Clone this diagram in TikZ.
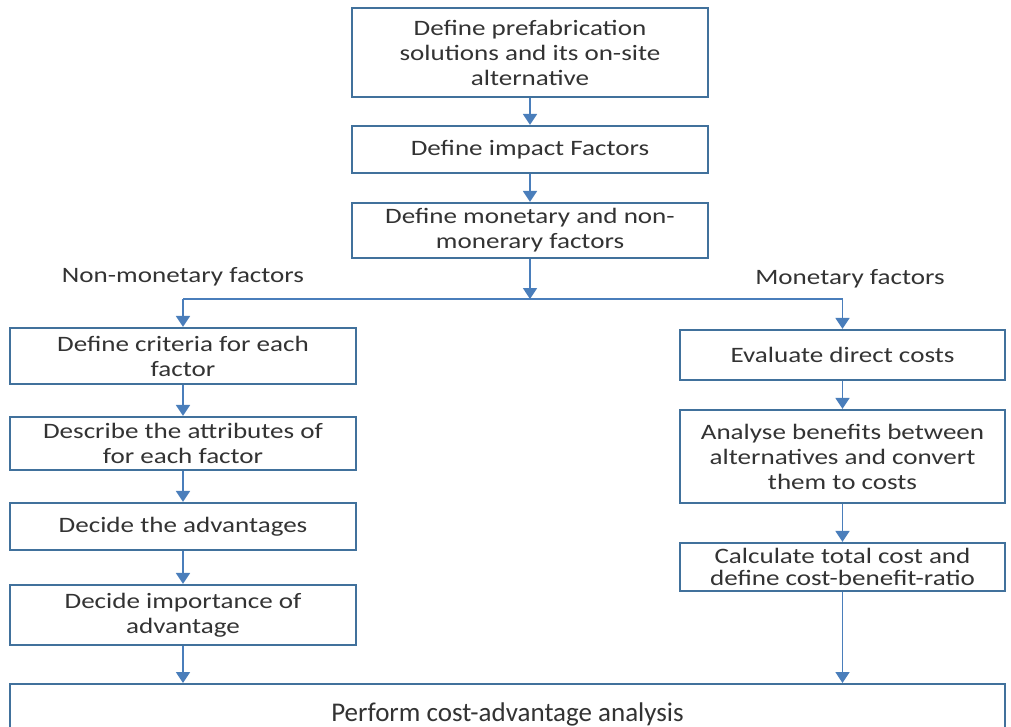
\documentclass[tikz,border=0pt]{standalone}
\usepackage{fontspec}
\setmainfont{Carlito}[FakeStretch=1.23]
\newfontfamily\plainfont{Carlito}
\usetikzlibrary{arrows.meta}
\definecolor{boxblue}{RGB}{65,113,156}
\definecolor{lineblue}{RGB}{74,126,187}

\begin{document}
\begin{tikzpicture}[x=0.5pt, y=-0.5pt,
        main/.style = {draw=boxblue, line width=1.1pt, fill=white, align=center, inner sep=2pt,
                       font=\fontsize{11}{12.5}\selectfont, text=black!80},
        lbl/.style = {font=\fontsize{11}{12.5}\selectfont, text=black!80},
        arr/.style = {draw=lineblue, line width=0.9pt, -{Triangle[width=7pt,length=5.5pt]}},
        ln/.style = {draw=lineblue, line width=0.9pt}]

            \useasboundingbox (0,0) rectangle (1011,727);
            \clip (0,0) rectangle (1011,727);

            % middle column
            \node[main, minimum width=178pt, minimum height=44.5pt] (1) at (530,52.5)
                {Define prefabrication\\ solutions and its on-site\\ alternative};
            \node[main, minimum width=178pt, minimum height=23.5pt] (2) at (530,149.5)
                {Define impact Factors};
            \node[main, minimum width=178pt, minimum height=27.5pt] (3) at (530,230.5)
                {Define monetary and non-\\ monerary factors};

            % left column
            \node[main, minimum width=173pt, minimum height=28pt] (l1) at (183,356)
                {Define criteria for each\\ factor};
            \node[main, minimum width=173pt, minimum height=26.5pt] (l2) at (183,443.5)
                {Describe the attributes of\\ for each factor};
            \node[main, minimum width=173pt, minimum height=23.5pt] (l3) at (183,526.5)
                {Decide the advantages};
            \node[main, minimum width=173pt, minimum height=30pt] (l4) at (183,615)
                {Decide importance of\\ advantage};

            % right column
            \node[main, minimum width=162.5pt, minimum height=25pt] (r1) at (842.5,355)
                {Evaluate direct costs};
            \node[main, minimum width=162.5pt, minimum height=46.5pt] (r2) at (842.5,456.5)
                {Analyse benefits between\\ alternatives and convert\\ them to costs};
            \node[main, minimum width=162.5pt, minimum height=24pt, inner ysep=0.5pt,
                  font=\fontsize{11}{11}\selectfont] (r3) at (842.5,567)
                {Calculate total cost and\\ define cost-benefit-ratio};

            \node[main, anchor=north, minimum width=497.5pt, minimum height=30pt,
                  font=\plainfont\fontsize{13.5}{14}\selectfont] (6) at (507.5,683)
                {Perform cost-advantage analysis};

            \node[lbl] (nm) at (183,277) {Non-monetary factors};
            \node[lbl] (m) at (850,279) {Monetary factors};

            \coordinate (j) at (530,299);
            \coordinate (jl) at (183,299);
            \coordinate (jr) at (842.5,299);

            \draw[arr] (1) -- (2);
            \draw[arr] (2) -- (3);
            \draw[arr] (3) -- (j);
            \draw[ln] (jl) -- (jr);
            \draw[arr] (jl) -- (l1);
            \draw[arr] (jr) -- (r1);
            \draw[arr] (l1) -- (l2);
            \draw[arr] (l2) -- (l3);
            \draw[arr] (l3) -- (l4);
            \draw[arr] (r1) -- (r2);
            \draw[arr] (r2) -- (r3);
            \draw[arr] (l4) -- (l4 |- 6.north);
            \draw[arr] (r3) -- (r3 |- 6.north);

            \end{tikzpicture}
\end{document}
